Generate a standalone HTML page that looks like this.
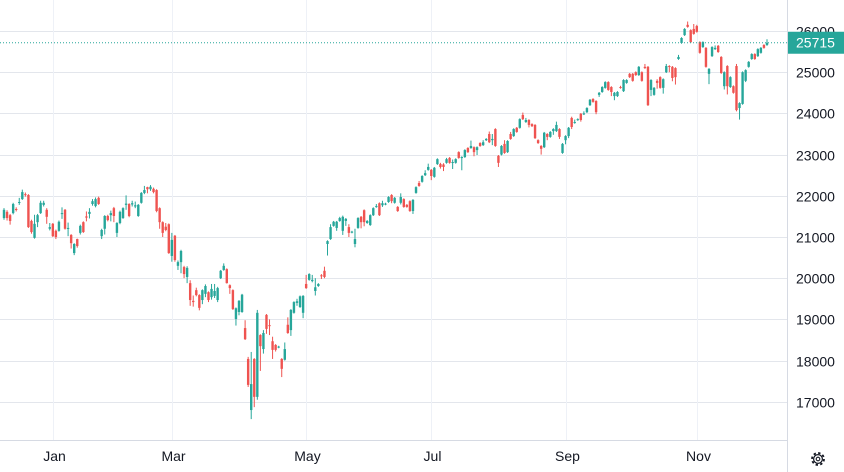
<!DOCTYPE html>
<html><head><meta charset="utf-8">
<style>
html,body{margin:0;padding:0;background:#fff;}
svg{display:block;font-family:"Liberation Sans",Arial,sans-serif;}
</style></head>
<body>
<svg id="chart" width="844" height="472" viewBox="0 0 844 472" xmlns="http://www.w3.org/2000/svg">
<rect x="0" y="0" width="844" height="472" fill="#ffffff"/>
<g id="grid"></g>
<g id="candles"></g>
<g id="axes"></g>
<g transform="translate(818,459)">
  <circle cx="0" cy="0" r="6" fill="none" stroke="#131722" stroke-width="1.8" stroke-dasharray="2.4 2.3"/>
  <circle cx="0" cy="0" r="4.4" fill="none" stroke="#131722" stroke-width="1.2"/>
  <circle cx="0" cy="0" r="1.8" fill="none" stroke="#131722" stroke-width="1.1"/>
</g>
</svg>
<script>
const monthLabels = ["Jan","Mar","May","Jul","Sep","Nov"];
const monthIndex = [16,55,99,140,184,227];
const priceTicks = [17000,18000,19000,20000,21000,22000,23000,24000,25000,26000];
const lastPrice = 25715;
const opens = [21460,21610,21530,21580,21680,21830,21920,22040,22020,21390,20980,21360,21580,21780,21660,21200,21320,21150,21150,21560,21660,21200,21050,20610,20950,21100,21360,21500,21560,21800,21750,21950,21020,21200,21510,21530,21700,21100,21340,21460,21780,21800,21790,21740,21510,21830,22070,22210,22160,22170,22140,21700,21360,21250,21310,20540,21030,20300,20390,20270,20030,19880,19450,19710,19590,19470,19620,19660,19540,19570,19470,20000,20200,20220,19830,19710,19010,19180,19180,18790,18040,16800,18040,17120,18620,18280,19110,18860,18470,18380,18320,18040,18020,18870,18740,19160,19400,19300,19160,19860,19960,19930,19690,19810,20070,20180,20830,20950,21270,21220,21390,21150,21390,21240,21110,20830,21220,21490,21650,21340,21290,21530,21730,21820,21770,21790,21850,22020,21830,21730,21830,21920,21780,21870,21630,22070,22310,22340,22500,22630,22630,22460,22770,22770,22760,22800,22920,22800,22800,23060,22920,22940,23160,23160,23180,23110,23280,23230,23350,23500,23350,23620,22970,23000,23260,23060,23500,23450,23650,23650,23960,23790,23840,23740,23720,23350,23210,23180,23500,23430,23570,23570,23620,23040,23350,23450,23890,23770,23840,23990,23980,24030,24200,24350,24300,24450,24520,24620,24760,24640,24420,24420,24640,24540,24740,24960,24960,25000,24930,25000,25130,25130,24570,24450,24790,24880,24620,25000,25150,25130,25100,25320,25710,25900,26150,26020,26050,26120,25730,25610,25590,24960,25390,25560,25640,25370,24660,25150,24640,24660,25150,24130,24230,24790,25130,25320,25440,25390,25470,25660,25660];
const closes = [21660,21460,21390,21800,21660,21850,22090,22020,21240,21120,21320,21530,21830,21830,21490,21240,21020,21000,21370,21580,21200,21220,20850,20830,20780,21270,21120,21470,21610,21870,21920,21800,21170,21510,21410,21580,21510,21340,21610,21700,21810,21510,21820,21770,21780,22070,22140,22160,22220,22090,21630,21360,21100,21170,20610,20930,20440,20390,20660,20100,20250,19470,19420,19590,19280,19710,19810,19470,19740,19690,19760,20180,20300,19880,19760,19250,19270,19450,19600,18520,17410,17430,17120,19160,18350,18670,18770,18840,18260,18260,18340,17800,18280,18670,19230,19420,19440,19560,19570,19760,20100,19960,19780,19860,20050,20030,20900,21240,21370,21370,21460,21490,21440,21100,21130,20950,21460,21360,21360,21390,21530,21700,21750,21530,21820,21810,21970,21870,21950,21630,21970,21730,21730,21630,21900,22210,22240,22480,22550,22700,22480,22680,22890,22700,22700,22890,22800,22820,22890,22920,22940,23110,23060,23210,23060,23180,23210,23300,23380,23300,23380,23210,22800,23210,23040,23330,23380,23620,23550,23860,23860,23840,23720,23690,23400,23280,23140,23530,23430,23550,23620,23720,23430,23260,23450,23650,23670,23790,23860,23840,24000,24130,24330,24280,24030,24500,24640,24760,24570,24520,24500,24520,24620,24810,24810,24880,24790,24930,25130,24790,25100,24200,24810,24620,24740,24620,24830,25150,25130,24860,24880,25370,25830,26050,26100,25730,25930,25980,25470,25730,25130,25080,25610,25590,25490,24980,25000,24660,24880,24500,24080,24250,25000,25050,25250,25440,25320,25560,25590,25590,25715];
const highs = [21700,21650,21560,21830,21720,21950,22150,22080,22040,21420,21540,21560,21880,21880,21700,21340,21340,21180,21400,21720,21680,21350,21070,20850,20960,21300,21380,21620,21700,21920,21960,21980,21200,21530,21540,21640,21730,21360,21640,21720,22010,21820,21880,21860,21800,22090,22240,22220,22260,22200,22160,21720,21380,21340,21330,21100,21050,20430,20690,20300,20290,19950,19580,19770,19610,19730,19850,19680,19860,19860,19790,20200,20360,20240,19850,19730,19290,19470,19620,18980,18090,18210,18060,19230,18640,18740,19130,19000,18580,18400,18360,18060,18440,19050,19250,19440,19500,19580,19590,20080,20120,20080,20000,19880,20100,20280,20920,21310,21390,21390,21490,21520,21460,21310,21150,21200,21480,21510,21670,21410,21550,21720,21800,21840,21880,21830,21990,22040,21970,21750,22060,21940,21800,21890,21920,22230,22360,22500,22620,22780,22650,22700,22910,22800,22790,22920,22940,22880,22910,23080,22960,23130,23180,23340,23200,23200,23300,23350,23400,23560,23500,23640,22990,23230,23350,23350,23550,23640,23670,23880,24020,23890,23860,23760,23740,23370,23230,23550,23520,23570,23640,23800,23640,23280,23470,23670,23920,23850,23880,24010,24050,24150,24350,24370,24320,24520,24660,24780,24780,24660,24520,24540,24670,24830,24830,24980,24980,25020,25150,25020,25200,25150,24830,24640,24830,24900,24850,25200,25170,25150,25120,25420,25850,26070,26230,26040,26170,26150,25750,25750,25610,25100,25630,25650,25660,25390,25020,25170,24900,24680,25200,24270,25020,25070,25270,25460,25460,25580,25610,25680,25800];
const lows = [21420,21400,21300,21550,21620,21780,21900,21980,21220,21080,20960,21240,21560,21740,21320,21160,21000,20950,21130,21440,21180,21020,20720,20560,20740,21060,21100,21380,21450,21760,21720,21780,20950,21060,21380,21380,21360,21000,21310,21440,21660,21480,21740,21700,21490,21810,22040,22060,22120,22060,21600,21200,21000,21140,20590,20400,20400,20200,20120,20000,19880,19330,19310,19560,19220,19370,19540,19420,19480,19520,19420,19980,20180,19870,19620,19230,18850,19100,19160,18500,17360,16580,16870,17050,17750,18170,18650,18620,18040,18220,18300,17600,18000,18650,18600,19140,19330,19280,19030,19740,19940,19900,19580,19790,19980,20000,20550,20930,21250,21150,21370,21050,21270,21000,21090,20750,21200,21210,21260,21320,21270,21510,21710,21510,21730,21770,21830,21820,21810,21610,21790,21710,21710,21610,21560,22050,22220,22320,22480,22610,22380,22440,22750,22660,22600,22780,22780,22650,22780,22900,22620,22920,23040,23140,22960,22990,23190,23210,23330,23280,23230,23190,22700,22980,23020,23040,23360,23430,23530,23630,23840,23770,23660,23670,23380,23260,23000,23160,23350,23410,23480,23550,23380,23020,23250,23400,23620,23750,23820,23800,23960,24010,24180,24260,23980,24400,24500,24600,24550,24420,24320,24400,24600,24520,24720,24860,24770,24910,24910,24770,25080,24180,24420,24430,24600,24600,24480,24980,25000,24780,24700,25300,25690,25880,26080,25710,25910,25960,25450,25590,25110,24710,25370,25540,25470,24960,24580,24460,24620,24480,24050,23850,24210,24760,25110,25300,25300,25370,25450,25570,25640];

const NS = "http://www.w3.org/2000/svg";
const PLOT_R = 787, PLOT_B = 440;
function xScale(i){ return 4 + i * (763 / (opens.length - 1)); }
function yScale(v){ return 31 + (26000 - v) * 0.0412; }
function mk(tag, attrs, parent){
  const el = document.createElementNS(NS, tag);
  for (const k in attrs) el.setAttribute(k, attrs[k]);
  parent.appendChild(el);
  return el;
}
const grid = document.getElementById('grid');
const axes = document.getElementById('axes');
const candles = document.getElementById('candles');

priceTicks.forEach(function(p){
  const y = Math.round(yScale(p)) + 0.5;
  const gl = mk('line', {x1:0, x2:PLOT_R, y1:y, y2:y, stroke:'#e3e6ec', 'stroke-width':1}, grid);
  
  
  const t = mk('text', {x:796, y:y+5, 'font-size':14, fill:'#131722'}, axes);
  t.textContent = p;
  
  
});
monthLabels.forEach(function(m, k){
  const x = Math.round(xScale(monthIndex[k])) + 0.5;
  const vl = mk('line', {x1:x, x2:x, y1:0, y2:PLOT_B, stroke:'#eef1f7', 'stroke-width':1}, grid);
  
  
  const t = mk('text', {x:x+1, y:461, 'font-size':14, fill:'#131722', 'text-anchor':'middle'}, axes);
  t.textContent = m;
  
  
});
const ab = mk('line', {x1:0, x2:PLOT_R, y1:PLOT_B+0.5, y2:PLOT_B+0.5, stroke:'#d6dae3', 'stroke-width':1}, axes);


const ar = mk('line', {x1:PLOT_R+0.5, x2:PLOT_R+0.5, y1:0, y2:472, stroke:'#d6dae3', 'stroke-width':1}, axes);



for (let i = 0; i < opens.length; i++){
  const up = closes[i] >= opens[i];
  const col = up ? '#26a69a' : '#ef5350';
  const x = xScale(i);
  const g = mk('g', {}, candles);
  
  
  mk('line', {x1:x, x2:x, y1:yScale(highs[i]), y2:yScale(lows[i]), stroke:col, 'stroke-width':1}, g);
  const top = yScale(Math.max(opens[i], closes[i]));
  const bot = yScale(Math.min(opens[i], closes[i]));
  mk('rect', {x:x-1.2, y:top, width:2.4, height:Math.max(1, bot-top), fill:col}, g);
}

const ly = yScale(lastPrice);
const pl = mk('line', {x1:0, x2:PLOT_R, y1:ly, y2:ly, stroke:'#26a69a', 'stroke-width':1, 'stroke-dasharray':'1 2'}, axes);


const lb = mk('rect', {x:788, y:ly-11, width:56, height:22, fill:'#26a69a'}, axes);


const lt = mk('text', {x:796, y:ly+5, 'font-size':14, fill:'#ffffff'}, axes);
lt.textContent = lastPrice;


</script>
</body></html>
